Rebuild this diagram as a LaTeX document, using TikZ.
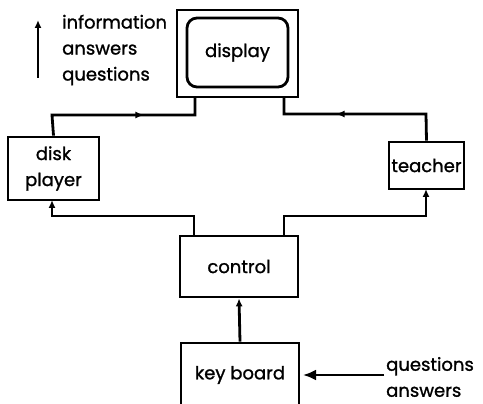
\documentclass[tikz,border=0pt]{standalone}
\usepackage{fontspec}
\setmainfont{Poppins}[FakeBold=1.2]
\usetikzlibrary{arrows.meta,decorations.markings}
\tikzset{
  box/.style={draw, line width=2.8pt, minimum width=#1, inner sep=0pt},
  wire/.style={line width=2.8pt},
  lbl/.style={font=\fontsize{18}{26}\selectfont, inner sep=0pt},
  tip/.style={-{Latex[length=8pt,width=7pt]}},
  midtip/.style={postaction={decorate}, decoration={markings,
      mark=at position #1 with {\arrow{Latex[length=9pt,width=7pt]}}}}
}
\begin{document}
\begin{tikzpicture}[x=1pt,y=-1pt]
\clip (0,0) rectangle (483,404);
\fill[white] (0,0) rectangle (483,404);

% monitor
\node[box=121pt, minimum height=87pt] (disp) at (237.5,53.5) {};
\node[box=101pt, minimum height=69pt, rounded corners=10pt, lbl] (screen) at (237.5,52.5) {display};

% side units
\node[box=91pt, minimum height=63pt, lbl, align=center] (disk) at (53.5,168.5) {disk\\player};
\node[box=75pt, minimum height=47pt, lbl] (teach) at (426.5,165.5) {teacher};

% control and keyboard
\node[box=118pt, minimum height=61pt, lbl] (ctrl) at (239,266.5) {control};
\node[box=118pt, minimum height=76pt, lbl] (kbd) at (240,381) {};
\node[lbl] (kbdtxt) at (240,375) {key board};

% legend
\coordinate (legA) at (38,78);
\coordinate (legB) at (38,20);
\draw[wire, tip] (legA) -- (legB);
\node[lbl, anchor=west, align=left] (legtxt) at (62,50) {information\\answers\\questions};

% input text
\node[lbl, anchor=west, align=left] (intxt) at (386,377) {questions\\answers};
\coordinate (inA) at (384,375);
\coordinate (inB) at (303,375);

% disk player -> display
\draw[wire, midtip=113pt] (disk.north) -- (52,115) -- (195,115) -- (195,97);
% teacher -> display
\draw[wire, midtip=117pt] (teach.north) -- (426,114) -- (284,114) -- (284,97);
% control -> disk player
\draw[wire, tip] (194,236) -- (194,216) -- (52,216) -- (52,200);
% control -> teacher
\draw[wire, tip] (284,236) -- (284,216) -- (426,216) -- (426,189);
% keyboard -> control
\draw[wire, tip] (kbd.north) -- (ctrl.south);
% input -> keyboard
\draw[wire, -{Latex[length=13pt,width=11pt]}] (inA) -- (inB);
\end{tikzpicture}
\end{document}
